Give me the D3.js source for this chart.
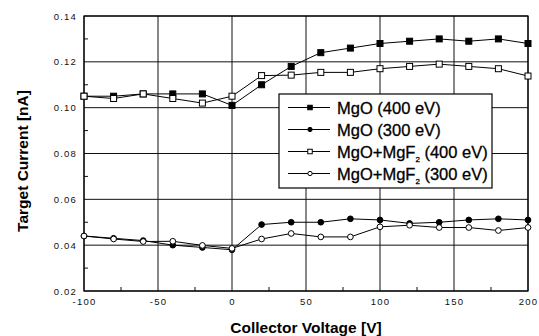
<!DOCTYPE html>
<html>
<head>
<meta charset="utf-8">
<script src="https://cdn.jsdelivr.net/npm/d3@7"></script>
<style>
  body { margin: 0; background: #fff; }
  text { font-family: "Liberation Sans", Arial, sans-serif; }
</style>
</head>
<body>
<svg id="chart" width="539" height="336"></svg>
<script>
// collector voltage (V)
var voltages = [-100, -80, -60, -40, -20, 0, 20, 40, 60, 80, 100, 120, 140, 160, 180, 200];

// target current (nA)
var mgo400 = [0.105, 0.105, 0.106, 0.106, 0.106, 0.101, 0.110, 0.118, 0.124, 0.126, 0.128, 0.129, 0.130, 0.129, 0.130, 0.128];
var mgo300 = [0.044, 0.043, 0.042, 0.040, 0.039, 0.038, 0.049, 0.050, 0.050, 0.0515, 0.051, 0.0495, 0.050, 0.051, 0.0515, 0.051];
var mgf400 = [0.105, 0.104, 0.106, 0.104, 0.102, 0.105, 0.114, 0.1142, 0.1154, 0.1154, 0.117, 0.118, 0.119, 0.118, 0.117, 0.1138];
var mgf300 = [0.044, 0.0427, 0.0416, 0.0417, 0.0399, 0.0386, 0.0427, 0.0451, 0.0436, 0.0436, 0.048, 0.0487, 0.0477, 0.0477, 0.0464, 0.0477];

var xTicks = [-100, -50, 0, 50, 100, 150, 200];
var yTicks = [0.02, 0.04, 0.06, 0.08, 0.10, 0.12, 0.14];

var seriesNames = ["MgO (400 eV)", "MgO (300 eV)", "MgO+MgF2 (400 eV)", "MgO+MgF2 (300 eV)"];

var margin = { top: 16, right: 11, bottom: 45, left: 84 },
    width = 539 - margin.left - margin.right,
    height = 336 - margin.top - margin.bottom;

var svg = d3.select("#chart");
var g = svg.append("g")
    .attr("transform", "translate(" + margin.left + "," + margin.top + ")");

var x = d3.scaleLinear().domain([-100, 200]).range([0, width]);
var y = d3.scaleLinear().domain([0.02, 0.14]).range([height, 0]);

// grid
g.append("g").selectAll("line").data(xTicks).join("line")
    .attr("x1", function (d) { return x(d); }).attr("x2", function (d) { return x(d); })
    .attr("y1", 0).attr("y2", height)
    .attr("stroke", "#111").attr("stroke-width", 1);
g.append("g").selectAll("line").data(yTicks).join("line")
    .attr("x1", 0).attr("x2", width)
    .attr("y1", function (d) { return y(d); }).attr("y2", function (d) { return y(d); })
    .attr("stroke", "#111").attr("stroke-width", 1);

// minor ticks, inward
var minorX = d3.range(-75, 200, 50);
var minorY = d3.range(0.03, 0.14, 0.02);
g.append("g").selectAll("line").data(minorX).join("line")
    .attr("x1", function (d) { return x(d); }).attr("x2", function (d) { return x(d); })
    .attr("y1", height).attr("y2", height - 4)
    .attr("stroke", "#111");
g.append("g").selectAll("line").data(minorY).join("line")
    .attr("x1", 0).attr("x2", 4)
    .attr("y1", function (d) { return y(d); }).attr("y2", function (d) { return y(d); })
    .attr("stroke", "#111");

// axes
var xAxis = g.append("g")
    .attr("transform", "translate(0," + height + ")")
    .call(d3.axisBottom(x).tickValues(xTicks).tickSize(0).tickPadding(7)
        .tickFormat(function (d) { return d; }));
var yAxis = g.append("g")
    .call(d3.axisLeft(y).tickValues(yTicks).tickSize(0).tickPadding(7)
        .tickFormat(d3.format(".2f")));
[xAxis, yAxis].forEach(function (a) {
    a.select(".domain").remove();
    a.selectAll("text").attr("font-size", 9.5).attr("fill", "#111")
        .attr("letter-spacing", 1.2).attr("font-family", "Liberation Sans, Arial, sans-serif");
});

// frame
g.append("rect")
    .attr("width", width).attr("height", height)
    .attr("fill", "none").attr("stroke", "#000").attr("stroke-width", 1.2);

// lines
var line = d3.line()
    .x(function (d, i) { return x(voltages[i]); })
    .y(function (d) { return y(d); });

var series = [
    { vals: mgo400, shape: "square", filled: true },
    { vals: mgo300, shape: "circle", filled: true },
    { vals: mgf400, shape: "square", filled: false },
    { vals: mgf300, shape: "circle", filled: false }
];

function drawMarker(sel, s, cx, cy, size) {
    if (s.shape === "square") {
        sel.append("rect")
            .attr("x", cx - size / 2).attr("y", cy - size / 2)
            .attr("width", size).attr("height", size)
            .attr("fill", s.filled ? "#000" : "#fff")
            .attr("stroke", "#000").attr("stroke-width", 1);
    } else {
        sel.append("circle")
            .attr("cx", cx).attr("cy", cy).attr("r", size / 2.1)
            .attr("fill", s.filled ? "#000" : "#fff")
            .attr("stroke", "#000").attr("stroke-width", 1);
    }
}

series.forEach(function (s) {
    g.append("path")
        .datum(s.vals)
        .attr("d", line)
        .attr("fill", "none")
        .attr("stroke", "#000")
        .attr("stroke-width", 1);
});
series.forEach(function (s) {
    var mg = g.append("g");
    s.vals.forEach(function (v, i) {
        drawMarker(mg, s, x(voltages[i]), y(v), 6);
    });
});

// legend
var leg = svg.append("g").attr("transform", "translate(279,94)");
leg.append("rect")
    .attr("width", 213).attr("height", 94)
    .attr("fill", "#fff").attr("stroke", "#000").attr("stroke-width", 1.2);
series.forEach(function (s, i) {
    var ly = 13.5 + i * 22;
    var row = leg.append("g");
    row.append("line")
        .attr("x1", 9).attr("x2", 51)
        .attr("y1", ly).attr("y2", ly)
        .attr("stroke", "#000");
    drawMarker(row, s, 31, ly, 4.5);
    var t = row.append("text")
        .attr("x", 58).attr("y", ly + 6)
        .attr("font-size", 16.5).attr("fill", "#000")
        .attr("stroke", "#000").attr("stroke-width", 0.3);
    var name = seriesNames[i];
    if (name.indexOf("MgF2") >= 0) {
        var parts = name.split("MgF2");
        t.append("tspan").text(parts[0] + "MgF");
        t.append("tspan").attr("font-size", 8).attr("dy", 4).text("2");
        t.append("tspan").attr("dy", -4).text(parts[1]);
    } else {
        t.text(name);
    }
});

// axis titles
svg.append("text")
    .attr("x", 306).attr("y", 333)
    .attr("text-anchor", "middle")
    .attr("font-size", 15.5).attr("font-weight", "bold")
    .text("Collector Voltage [V]");
svg.append("text")
    .attr("transform", "translate(28,161) rotate(-90)")
    .attr("text-anchor", "middle")
    .attr("font-size", 15.5).attr("font-weight", "bold")
    .text("Target Current [nA]");
</script>
</body>
</html>
